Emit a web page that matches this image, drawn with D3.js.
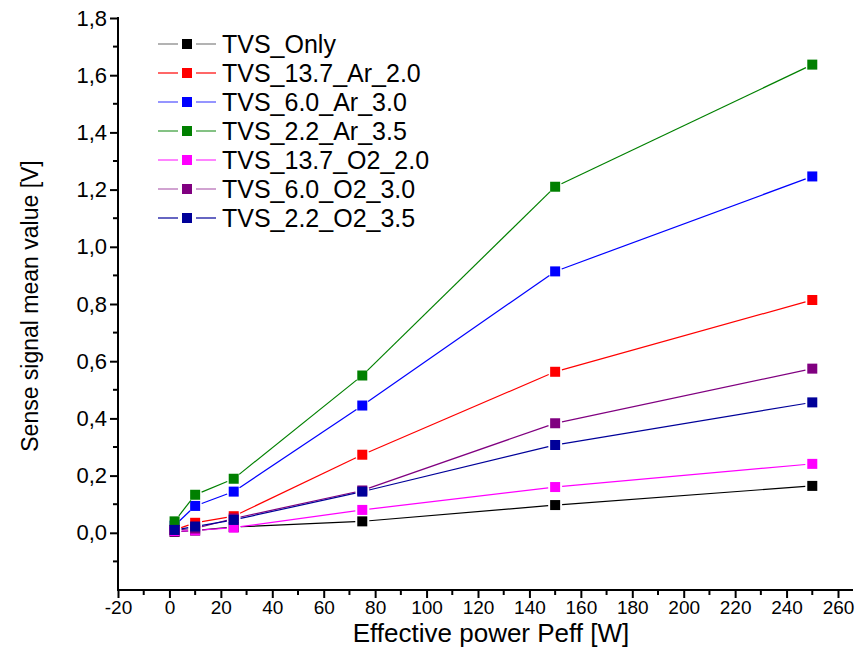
<!DOCTYPE html>
<html>
<head>
<meta charset="utf-8">
<script src="https://cdn.jsdelivr.net/npm/d3@7"></script>
<style>
  body { margin: 0; background: #fff; }
  svg text { font-family: "Liberation Sans", Arial, sans-serif; fill: #000; }
</style>
</head>
<body>
<svg id="chart" width="855" height="647"></svg>
<script>
// effective power values [W]
var power = [2, 10, 25, 75, 150, 250];

var seriesNames = ["TVS_Only", "TVS_13.7_Ar_2.0", "TVS_6.0_Ar_3.0", "TVS_2.2_Ar_3.5",
  "TVS_13.7_O2_2.0", "TVS_6.0_O2_3.0", "TVS_2.2_O2_3.5"];
var seriesColors = ["#000000", "#ff0000", "#0000ff", "#008000", "#ff00ff", "#800080", "#000099"];
var legendLineColors = ["#808080", "#ff0000", "#4d4dff", "#339933", "#ff33ff", "#b266b2", "#000099"];

var tvsOnly   = [0.003, 0.008, 0.02, 0.04, 0.097, 0.164];
var ar137     = [0.01, 0.035, 0.058, 0.273, 0.563, 0.814];
var ar60      = [0.025, 0.094, 0.144, 0.445, 0.914, 1.246];
var ar22      = [0.04, 0.133, 0.189, 0.55, 1.21, 1.637];
var o2137     = [0.005, 0.008, 0.018, 0.08, 0.16, 0.241];
var o260      = [0.01, 0.015, 0.05, 0.148, 0.383, 0.574];
var o222      = [0.01, 0.022, 0.045, 0.144, 0.307, 0.456];

var seriesValues = [tvsOnly, ar137, ar60, ar22, o2137, o260, o222];

var xTicks = d3.range(-20, 261, 20);
var yTicks = d3.range(0, 1.81, 0.2);

var svg = d3.select("#chart");

var x = d3.scaleLinear().domain([-20, 260]).range([118, 838]);
var y = d3.scaleLinear().domain([-0.2, 1.8]).range([590, 18]);

// axes
var xAxis = d3.axisBottom(x)
  .tickValues(xTicks)
  .tickSize(8)
  .tickPadding(3)
  .tickFormat(d3.format("d"));

var gx = svg.append("g")
  .attr("transform", "translate(0,590)")
  .call(xAxis);
gx.select(".domain").remove();
gx.append("line")
  .attr("x1", 117).attr("x2", 853)
  .attr("stroke", "#000").attr("stroke-width", 2);
gx.selectAll(".tick line").attr("stroke-width", 2);
gx.selectAll(".tick text").attr("font-size", 19).text(function (d) { return d; });

// minor x ticks
gx.selectAll(".minor")
  .data(d3.range(-10, 261, 20))
  .enter().append("line")
  .attr("class", "minor")
  .attr("x1", function (d) { return x(d); })
  .attr("x2", function (d) { return x(d); })
  .attr("y1", 0).attr("y2", 5)
  .attr("stroke", "#000").attr("stroke-width", 2);

var yAxis = d3.axisLeft(y)
  .tickValues(yTicks)
  .tickSize(8)
  .tickPadding(3)
  .tickFormat(function (d) { return d3.format(".1f")(d).replace(".", ","); });

var gy = svg.append("g")
  .attr("transform", "translate(118,0)")
  .call(yAxis);
gy.select(".domain").remove();
gy.append("line")
  .attr("y1", 17).attr("y2", 591)
  .attr("stroke", "#000").attr("stroke-width", 2);
gy.selectAll(".tick line").attr("stroke-width", 2);
gy.selectAll(".tick text").attr("font-size", 22);

gy.selectAll(".minor")
  .data(d3.range(-0.1, 1.75, 0.2))
  .enter().append("line")
  .attr("class", "minor")
  .attr("y1", function (d) { return y(d); })
  .attr("y2", function (d) { return y(d); })
  .attr("x1", 0).attr("x2", -5)
  .attr("stroke", "#000").attr("stroke-width", 2);

// axis titles
svg.append("text")
  .attr("x", 491).attr("y", 642)
  .attr("text-anchor", "middle")
  .attr("font-size", 26)
  .text("Effective power Peff [W]");

svg.append("text")
  .attr("transform", "translate(38,306) rotate(-90)")
  .attr("text-anchor", "middle")
  .attr("font-size", 23)
  .text("Sense signal mean value [V]");

// series: lines with small gaps at the markers
var gap = 7;
var plot = svg.append("g");

seriesValues.forEach(function (vals, si) {
  var pts = power.map(function (p, i) { return [x(p), y(vals[i])]; });
  var segs = [];
  for (var i = 0; i < pts.length - 1; i++) {
    var a = pts[i], b = pts[i + 1];
    var dx = b[0] - a[0], dy = b[1] - a[1];
    var len = Math.sqrt(dx * dx + dy * dy);
    if (len <= gap * 2) continue;
    var ux = dx / len, uy = dy / len;
    segs.push([a[0] + ux * gap, a[1] + uy * gap, b[0] - ux * gap, b[1] - uy * gap]);
  }
  var g = plot.append("g").attr("class", "series");
  g.selectAll("line").data(segs).enter().append("line")
    .attr("x1", function (d) { return d[0]; })
    .attr("y1", function (d) { return d[1]; })
    .attr("x2", function (d) { return d[2]; })
    .attr("y2", function (d) { return d[3]; })
    .attr("stroke", seriesColors[si])
    .attr("stroke-width", 1.2);
  g.selectAll("rect").data(pts).enter().append("rect")
    .attr("x", function (d) { return d[0] - 5; })
    .attr("y", function (d) { return d[1] - 5; })
    .attr("width", 10).attr("height", 10)
    .attr("fill", seriesColors[si]);
});

// legend
var legend = svg.append("g").attr("transform", "translate(158,44)");
var rows = legend.selectAll("g").data(seriesNames).enter().append("g")
  .attr("transform", function (d, i) { return "translate(0," + (i * 29) + ")"; });
rows.append("line")
  .attr("x1", 0).attr("x2", 20).attr("y1", 0).attr("y2", 0)
  .attr("stroke", function (d, i) { return legendLineColors[i]; })
  .attr("stroke-width", 1.2);
rows.append("line")
  .attr("x1", 38).attr("x2", 58).attr("y1", 0).attr("y2", 0)
  .attr("stroke", function (d, i) { return legendLineColors[i]; })
  .attr("stroke-width", 1.2);
rows.append("rect")
  .attr("x", 24).attr("y", -5).attr("width", 10).attr("height", 10)
  .attr("fill", function (d, i) { return seriesColors[i]; });
rows.append("text")
  .attr("x", 64).attr("y", 9)
  .attr("font-size", 25)
  .text(function (d) { return d; });
</script>
</body>
</html>
